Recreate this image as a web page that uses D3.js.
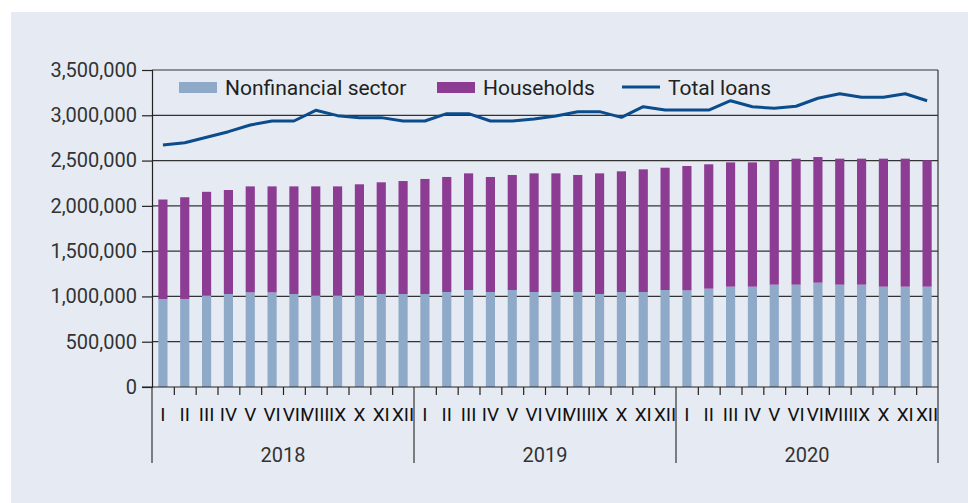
<!DOCTYPE html>
<html>
<head>
<meta charset="utf-8">
<script src="https://cdn.jsdelivr.net/npm/d3@7"></script>
<style>
  body { margin: 0; background: #fff; }
  svg { display: block; font-family: Roboto, "Open Sans", sans-serif; }
</style>
</head>
<body>
<div id="chart-area"></div>
<script>
// months, one per bar
const months = ["I","II","III","IV","V","VI","VII","VIII","IX","X","XI","XII"]
const years = ["2018", "2019", "2020"]

const nonfinancial = [
  972000, 972000, 1008000, 1027000, 1045000, 1045000, 1027000, 1008000, 1008000, 1008000, 1027000, 1027000,
  1027000, 1049000, 1071000, 1049000, 1071000, 1049000, 1049000, 1049000, 1027000, 1049000, 1049000, 1071000,
  1067000, 1086000, 1108000, 1108000, 1130000, 1130000, 1152000, 1130000, 1130000, 1108000, 1108000, 1108000
]
const households = [
  1098000, 1123000, 1147000, 1148000, 1170000, 1170000, 1188000, 1207000, 1207000, 1230000, 1233000, 1247000,
  1270000, 1270000, 1288000, 1270000, 1270000, 1310000, 1310000, 1292000, 1332000, 1332000, 1354000, 1350000,
  1373000, 1373000, 1372000, 1372000, 1373000, 1391000, 1387000, 1391000, 1391000, 1413000, 1413000, 1395000
]
const totalLoans = [
  2672000, 2697000, 2757000, 2819000, 2893000, 2937000, 2937000, 3055000, 2996000, 2974000, 2974000, 2937000,
  2937000, 3018000, 3018000, 2937000, 2937000, 2959000, 2992000, 3040000, 3040000, 2977000, 3095000, 3058000,
  3058000, 3058000, 3161000, 3095000, 3077000, 3100000, 3188000, 3238000, 3198000, 3198000, 3238000, 3161000
]
const yTicks = [0, 500000, 1000000, 1500000, 2000000, 2500000, 3000000, 3500000]

const W = 968, H = 503
const MARGIN = { LEFT: 152, RIGHT: 30, TOP: 70, BOTTOM: 116 }
const WIDTH = W - MARGIN.LEFT - MARGIN.RIGHT
const HEIGHT = H - MARGIN.TOP - MARGIN.BOTTOM

const BLUE = "#8eaac8", PURPLE = "#8c3c93", LINE = "#0b4c8c", INK = "#222"

// one row per month
const data = []
years.forEach(yr => months.forEach(m => data.push({ key: yr + "-" + m, year: yr, month: m })))
data.forEach((d, i) => {
  d.nonfin = nonfinancial[i]
  d.house = households[i]
  d.total = totalLoans[i]
})

const svg = d3.select("#chart-area").append("svg")
  .attr("width", W)
  .attr("height", H)

// panel background
svg.append("rect")
  .attr("x", 11).attr("y", 12)
  .attr("width", W - 11).attr("height", H - 12)
  .attr("fill", "#e6ebf3")

const g = svg.append("g")
  .attr("transform", `translate(${MARGIN.LEFT}, ${MARGIN.TOP})`)

const x = d3.scaleBand()
  .domain(data.map(d => d.key))
  .range([0, WIDTH])
  .paddingInner(0.58)
  .paddingOuter(0.29)

const xIdx = d3.scaleLinear().domain([0, data.length]).range([0, WIDTH])

const y = d3.scaleLinear()
  .domain([0, 3500000])
  .range([HEIGHT, 0])

// gridlines
g.append("g")
  .selectAll("line")
  .data(yTicks.slice(1))
  .enter().append("line")
    .attr("x1", 0).attr("x2", WIDTH)
    .attr("y1", d => y(d)).attr("y2", d => y(d))
    .attr("stroke", "#333")
    .attr("stroke-width", 1.2)

// stacked bars
const stack = d3.stack().keys(["nonfin", "house"])(data)
const colors = { nonfin: BLUE, house: PURPLE }

g.append("g").selectAll("g")
  .data(stack)
  .enter().append("g")
    .attr("fill", s => colors[s.key])
  .selectAll("rect")
  .data(s => s)
  .enter().append("rect")
    .attr("x", d => x(d.data.key))
    .attr("width", x.bandwidth())
    .attr("y", d => y(d[1]))
    .attr("height", d => y(d[0]) - y(d[1]))

// total loans line
const line = d3.line()
  .x(d => x(d.key) + x.bandwidth() / 2)
  .y(d => y(d.total))

g.append("path")
  .datum(data)
  .attr("fill", "none")
  .attr("stroke", LINE)
  .attr("stroke-width", 3)
  .attr("stroke-linejoin", "round")
  .attr("d", line)

// Y axis
const yAxisCall = d3.axisLeft(y)
  .tickValues(yTicks)
  .tickSize(10)
  .tickPadding(5)
  .tickFormat(d3.format(","))
const yAxisGroup = g.append("g").call(yAxisCall)
yAxisGroup.select(".domain").attr("stroke", INK).attr("stroke-width", 1.2)
yAxisGroup.selectAll(".tick line").attr("stroke", INK).attr("stroke-width", 1.2)
yAxisGroup.selectAll("text")
  .attr("fill", "#333")
  .attr("font-size", "20px")
  .attr("font-family", "Roboto, sans-serif")

// X axis: small ticks between months
const xAxisCall = d3.axisBottom(xIdx)
  .tickValues(d3.range(1, data.length).filter(i => i % 12 !== 0))
  .tickSize(8)
  .tickFormat("")
const xAxisGroup = g.append("g")
  .attr("transform", `translate(0, ${HEIGHT})`)
  .call(xAxisCall)
xAxisGroup.select(".domain").remove()
xAxisGroup.selectAll(".tick line").attr("stroke", INK).attr("stroke-width", 1.2)

g.append("line")
  .attr("x1", -10).attr("x2", WIDTH)
  .attr("y1", HEIGHT).attr("y2", HEIGHT)
  .attr("stroke", INK).attr("stroke-width", 1.2)

// year separators and right border
g.append("g").selectAll("line")
  .data([0, 12, 24, 36])
  .enter().append("line")
    .attr("x1", d => xIdx(d)).attr("x2", d => xIdx(d))
    .attr("y1", d => d === 36 ? 0 : HEIGHT)
    .attr("y2", HEIGHT + 76)
    .attr("stroke", "#333")
    .attr("stroke-width", 1.2)

// month labels
g.append("g").selectAll("text")
  .data(data)
  .enter().append("text")
    .attr("x", d => x(d.key) + x.bandwidth() / 2)
    .attr("y", HEIGHT + 34)
    .attr("text-anchor", "middle")
    .attr("font-size", "19px")
    .attr("fill", "#111")
    .text(d => d.month)

// year labels
g.append("g").selectAll("text")
  .data(years)
  .enter().append("text")
    .attr("x", (d, i) => (xIdx(i * 12) + xIdx(i * 12 + 12)) / 2)
    .attr("y", HEIGHT + 75)
    .attr("text-anchor", "middle")
    .attr("font-size", "20px")
    .attr("fill", "#333")
    .text(d => d)

// legend
const legend = g.append("g")
const items = [
  { label: "Nonfinancial sector", color: BLUE, type: "rect", x: 27 },
  { label: "Households", color: PURPLE, type: "rect", x: 285 },
  { label: "Total loans", color: LINE, type: "line", x: 470 }
]
items.forEach(it => {
  if (it.type === "rect") {
    legend.append("rect")
      .attr("x", it.x).attr("y", 12)
      .attr("width", 38).attr("height", 11)
      .attr("fill", it.color)
  } else {
    legend.append("line")
      .attr("x1", it.x).attr("x2", it.x + 38)
      .attr("y1", 17).attr("y2", 17)
      .attr("stroke", it.color).attr("stroke-width", 3)
  }
  legend.append("text")
    .attr("x", it.x + 46)
    .attr("y", 25)
    .attr("font-size", "21px")
    .attr("fill", "#222")
    .text(it.label)
})
</script>
</body>
</html>
